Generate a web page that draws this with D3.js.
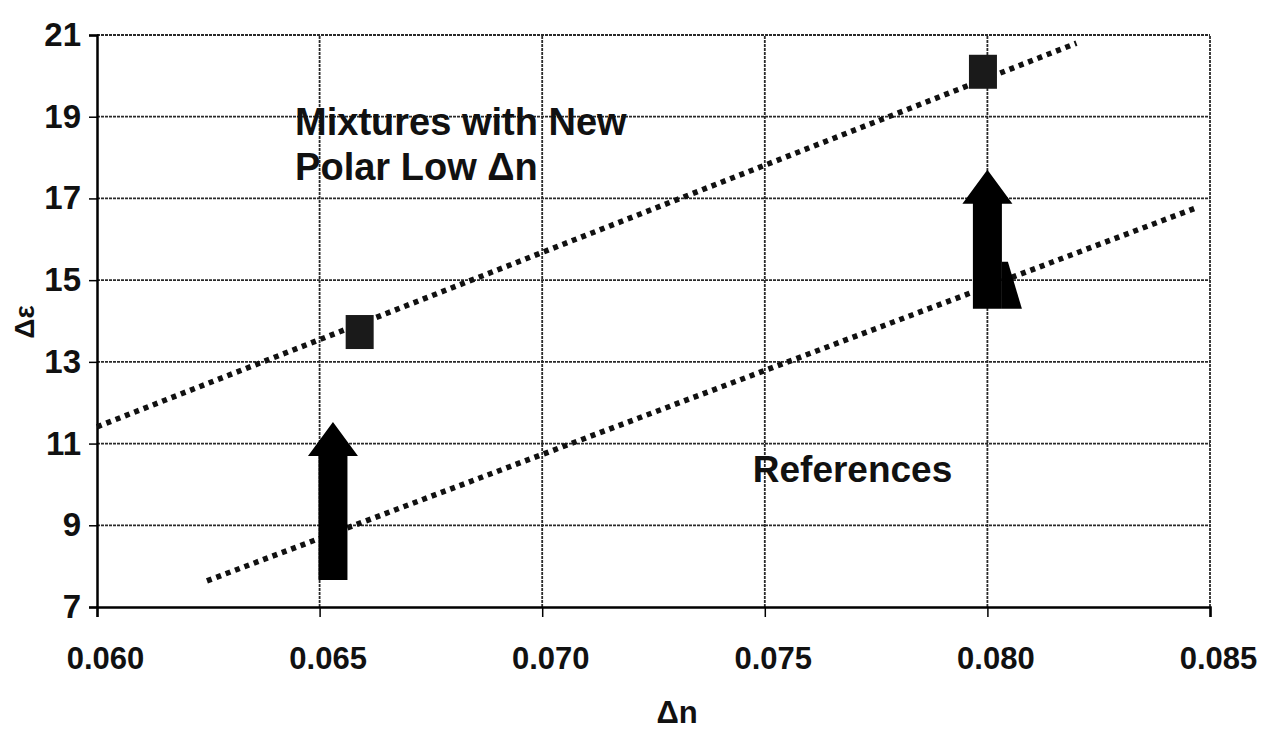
<!DOCTYPE html>
<html>
<head>
<meta charset="utf-8">
<script src="https://cdn.jsdelivr.net/npm/d3@7"></script>
<style>
  html, body { margin: 0; padding: 0; background: #fff; }
  svg { display: block; }
  text { font-family: "Liberation Sans", Arial, sans-serif; font-weight: bold; fill: #111; }
</style>
</head>
<body>
<svg id="chart" width="1266" height="733"></svg>
<script>
// ---- data ----
const xTicks = [0.060, 0.065, 0.070, 0.075, 0.080, 0.085];
const yTicks = [7, 9, 11, 13, 15, 17, 19, 21];
const mixturePoints = [[0.0659, 13.73], [0.0799, 20.1]];
const mixtureTrend = [[0.0600, 11.41], [0.0820, 20.80]];
const referenceTrend = [[0.06247, 7.64], [0.08469, 16.77]];
const arrowsX = [0.0653, 0.0800];
const arrowsFrom = [7.66, 14.3];
const arrowsTo = [11.53, 17.7];
const labelMixtures = ["Mixtures with New", "Polar Low \u0394n"];
const labelMixturesAt = [0.06445, 18.55];
const labelReferences = "References";
const labelReferencesAt = [0.07473, 10.06];
const xTitle = "\u0394n";
const yTitle = "\u0394\u03b5";

// ---- layout ----
const svg = d3.select("#chart");
const x = d3.scaleLinear().domain([0.060, 0.085]).range([97, 1210]);
const y = d3.scaleLinear().domain([7, 21]).range([607, 35]);

// grid
const grid = svg.append("g");
grid.selectAll(".hg").data(yTicks.filter(d => d !== 7)).enter().append("line")
  .attr("x1", x(0.060)).attr("x2", x(0.085))
  .attr("y1", d => y(d)).attr("y2", d => y(d))
  .attr("stroke", "#2a2a2a").attr("stroke-width", 1.8).attr("stroke-dasharray", "3,1");
grid.selectAll(".vg").data(xTicks.filter(d => d !== 0.060)).enter().append("line")
  .attr("x1", d => x(d)).attr("x2", d => x(d))
  .attr("y1", y(7)).attr("y2", y(21))
  .attr("stroke", "#2a2a2a").attr("stroke-width", 1.8).attr("stroke-dasharray", "3,1");

// axes
const xAxis = d3.axisBottom(x).tickValues(xTicks).tickFormat(d3.format(".3f"))
  .tickSize(10).tickPadding(30);
const gx = svg.append("g").attr("transform", `translate(0,${y(7)})`).call(xAxis);
gx.select(".domain").attr("stroke", "#000").attr("stroke-width", 2.5);
gx.selectAll(".tick line").attr("stroke", "#000").attr("stroke-width", 1.5);
gx.selectAll(".tick text").attr("font-size", 31).attr("dx", 8)
  .style("font-family", "Liberation Sans, Arial, sans-serif").style("font-weight", "bold").attr("fill", "#111");

const yAxis = d3.axisLeft(y).tickValues(yTicks).tickFormat(d3.format("d"))
  .tickSize(8).tickPadding(8);
const gy = svg.append("g").attr("transform", `translate(${x(0.060)},0)`).call(yAxis);
gy.select(".domain").attr("stroke", "#000").attr("stroke-width", 2.5);
gy.selectAll(".tick line").attr("stroke", "#000").attr("stroke-width", 1.5);
gy.selectAll(".tick text").attr("font-size", 33)
  .style("font-family", "Liberation Sans, Arial, sans-serif").style("font-weight", "bold").attr("fill", "#111");

// trendlines
const line = d3.line().x(d => x(d[0])).y(d => y(d[1]));
[mixtureTrend, referenceTrend].forEach(t => {
  svg.append("path").datum(t).attr("d", line)
    .attr("fill", "none").attr("stroke", "#111").attr("stroke-width", 5.5)
    .attr("stroke-dasharray", "5,5");
});

// markers
svg.selectAll(".mk").data(mixturePoints).enter().append("rect")
  .attr("x", d => x(d[0]) - 14).attr("y", d => y(d[1]) - 17)
  .attr("width", 28).attr("height", 34).attr("fill", "#1a1a1a");

// arrows
arrowsX.forEach((ax, i) => {
  const cx = x(ax), yb = y(arrowsFrom[i]), yt = y(arrowsTo[i]);
  const sw = 14.5, hw = 25, hh = 34;
  const pts = [[cx - sw, yb], [cx - sw, yt + hh], [cx - hw, yt + hh], [cx, yt],
               [cx + hw, yt + hh], [cx + sw, yt + hh], [cx + sw, yb]];
  svg.append("polygon").attr("points", pts.map(p => p.join(",")).join(" "))
    .attr("fill", "#000");
  if (i === 1) {
    svg.append("polygon")
      .attr("points", [[cx + sw, yb], [cx + sw, yb - 47], [cx + sw + 6, yb - 47], [cx + sw + 20, yb]].map(p => p.join(",")).join(" "))
      .attr("fill", "#000");
  }
});

// annotations
const tm = svg.append("text").attr("x", x(labelMixturesAt[0])).attr("y", y(labelMixturesAt[1]))
  .attr("font-size", 38);
labelMixtures.forEach((s, i) => {
  tm.append("tspan").attr("x", x(labelMixturesAt[0])).attr("dy", i === 0 ? 0 : 45).text(s);
});
svg.append("text").attr("x", x(labelReferencesAt[0])).attr("y", y(labelReferencesAt[1]))
  .attr("font-size", 37).text(labelReferences);

// axis titles
svg.append("text").attr("x", 677).attr("y", 723).attr("text-anchor", "middle")
  .attr("font-size", 31).text(xTitle);
svg.append("text").attr("transform", "translate(34,322) rotate(-90)").attr("text-anchor", "middle")
  .attr("font-size", 28).text(yTitle);
</script>
</body>
</html>
